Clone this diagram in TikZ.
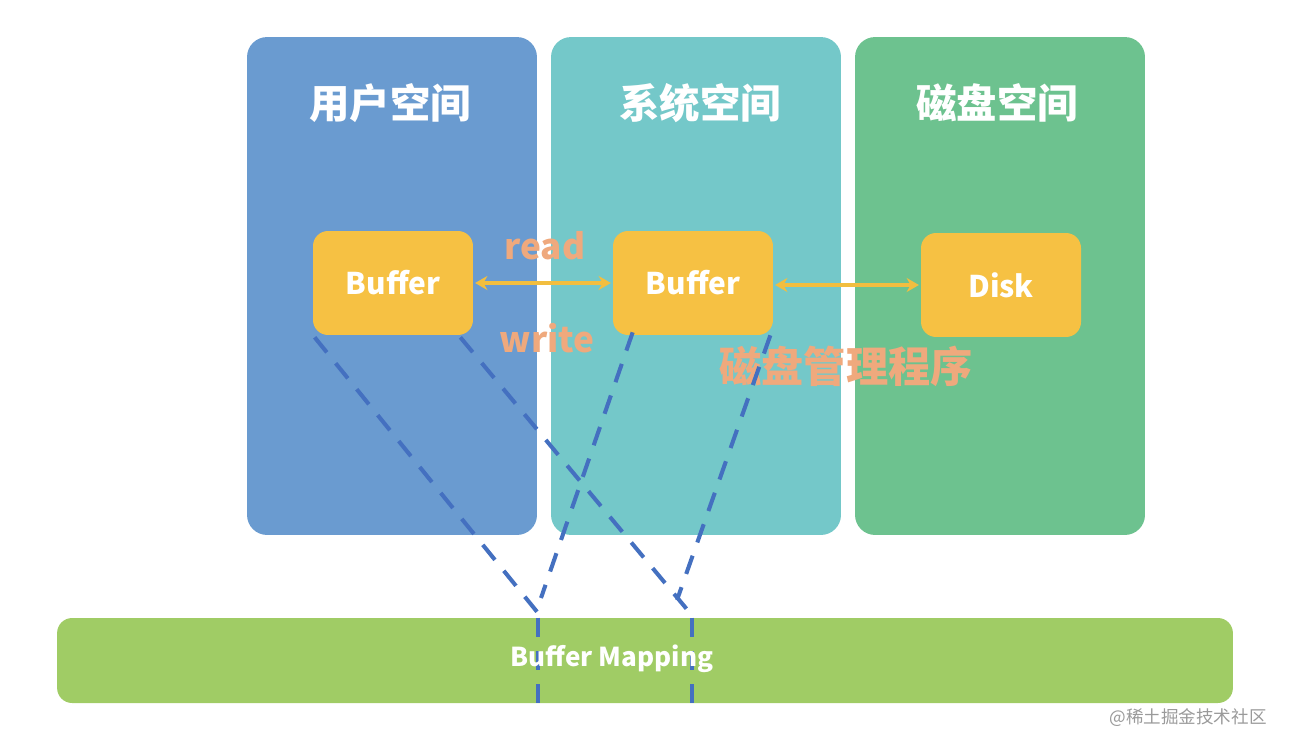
\documentclass[tikz,border=0pt]{standalone}
\usepackage{fontspec}
\setmainfont{Noto Sans CJK SC}
\usepackage{xcolor}
\usetikzlibrary{arrows.meta}
\definecolor{USR}{HTML}{6A9BD0}
\definecolor{SYS}{HTML}{74C8C9}
\definecolor{DSK}{HTML}{6DC28F}
\definecolor{BUF}{HTML}{F6C143}
\definecolor{ARR}{HTML}{F2BE3F}
\definecolor{LBL}{HTML}{EFA97D}
\definecolor{MAP}{HTML}{A0CC65}
\definecolor{DSH}{HTML}{4470C0}
\definecolor{WMK}{HTML}{9A9A9A}

\begin{document}
\begin{tikzpicture}[
    x=0.02cm, y=-0.02cm,
    col/.style={rounded corners=0.4cm, minimum width=5.8cm, minimum height=9.96cm, inner sep=0pt},
    head/.style={font=\fontsize{23}{28}\selectfont\bfseries, text=white},
    bufbox/.style={fill=BUF, rounded corners=0.3cm, minimum width=3.2cm, minimum height=2.08cm,
      inner sep=0pt, font=\fontsize{17}{20}\selectfont\bfseries, text=white},
    rw/.style={draw=ARR, line width=2.2pt, {Stealth[length=7pt,width=8pt]}-{Stealth[length=7pt,width=8pt]}},
    lbl/.style={font=\fontsize{20}{24}\selectfont\bfseries, text=LBL},
    maplink/.style={draw=DSH, line width=2.3pt, dash pattern=on 11pt off 8pt},
  ]

  \useasboundingbox (0,0) rectangle (1290,750);

  % --- spaces ---
  \node[col, fill=USR] (user) at (392,286) {};
  \node[col, fill=SYS] (sys)  at (696,286) {};
  \node[col, fill=DSK] (dsk)  at (1000,286) {};
  \node[head] (userh) at (390,103) {用户空间};
  \node[head] (sysh)  at (700,103) {系统空间};
  \node[head] (dskh)  at (997,103) {磁盘空间};

  % --- buffers ---
  \node[bufbox] (buf1) at (393,283) {Buffer};
  \node[bufbox] (buf2) at (693,283) {Buffer};
  \node[bufbox] (disk) at (1001,285) {Disk};

  \draw[rw, shorten <=1pt, shorten >=1pt] (buf1.east) -- (buf2.west);
  \draw[rw, shorten <=1pt, shorten >=1pt] (buf2.east |- disk.west) -- (disk.west);
  \node[lbl, anchor=base] (rd) at (545,259) {read};
  \node[lbl, anchor=base] (wr) at (547,352) {write};
  \node[lbl, font=\fontsize{24}{28}\selectfont\bfseries] (mgr) at (846,366) {磁盘管理程序};

  % --- mapping ---
  \node[fill=MAP, rounded corners=0.3cm, minimum width=23.52cm, minimum height=1.7cm, inner sep=0pt] (map) at (645,660.5) {};
  \coordinate (m1) at (538,613);
  \coordinate (m2) at (690,613);
  \coordinate (c1) at (541,598);
  \coordinate (c2) at (677,600);

  \draw[maplink] ([shift={(2,2)}]buf1.south west) -- (m1);
  \draw[maplink] ([shift={(-13,2)}]buf1.south east) -- (m2);
  \draw[maplink] ([shift={(20,-3)}]buf2.south west) -- (c1);
  \draw[maplink] ([shift={(-3,0)}]buf2.south east) -- (c2);
  \draw[maplink] (m1 |- map.north) -- (m1 |- map.south);
  \draw[maplink] ([xshift=0.04cm]m2 |- map.north) -- ([xshift=0.04cm]m2 |- map.south);

  \node[font=\fontsize{14.8}{18}\selectfont\bfseries, text=white] (mapt) at (612,659) {Buffer Mapping};

  \node[font=\fontsize{10}{12}\selectfont, text=WMK] (wmk) at (1188,718) {@稀土掘金技术社区};

\end{tikzpicture}
\end{document}
